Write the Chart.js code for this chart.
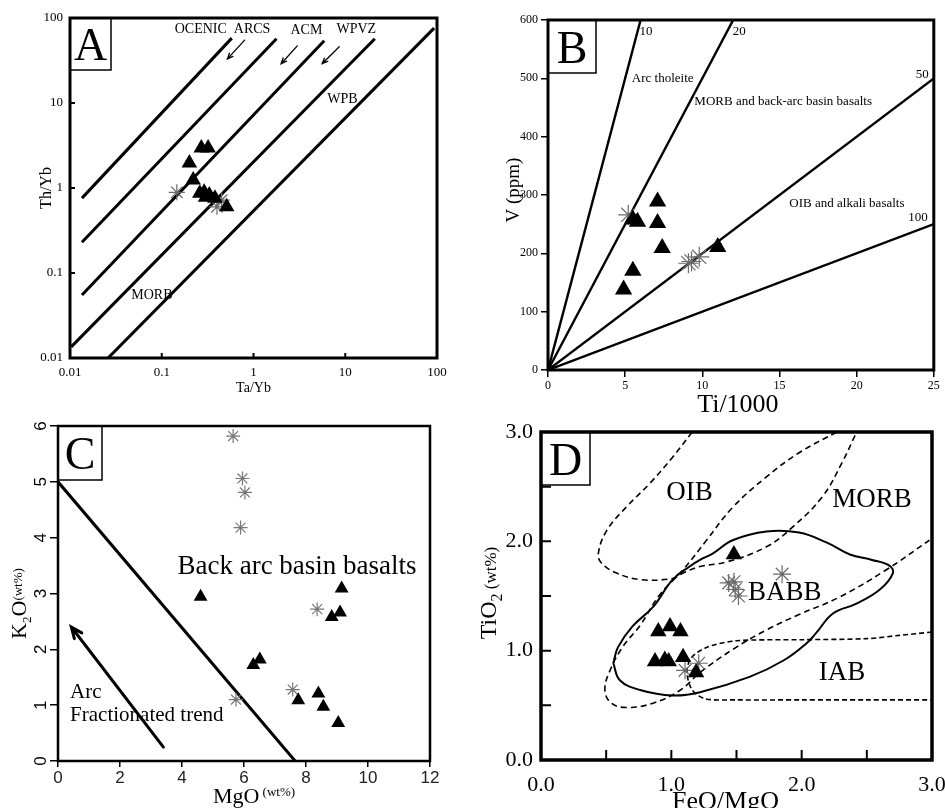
<!DOCTYPE html>
<html>
<head>
<meta charset="utf-8">
<title>Discrimination diagrams A-D</title>
<script src="https://cdn.jsdelivr.net/npm/chart.js@4.4.1/dist/chart.umd.min.js"></script>
<style>
  body { margin: 0; background: #fff; }
  #fig { position: relative; width: 945px; height: 808px; overflow: hidden; }
  #fig canvas { position: absolute; }
</style>
</head>
<body>
<div id="fig">
  <canvas id="chartA" width="470" height="400" style="left:0px;top:0px"></canvas>
  <canvas id="chartC" width="470" height="408" style="left:0px;top:400px"></canvas>
  <canvas id="chartD" width="475" height="408" style="left:470px;top:400px"></canvas>
  <canvas id="chartB" width="475" height="420" style="left:470px;top:0px"></canvas>
</div>
<script>
const SERIF = '"Liberation Serif", "Times New Roman", serif';
const SANS = '"Liberation Sans", Arial, sans-serif';

Chart.defaults.font.family = SERIF;
Chart.defaults.color = '#000';
Chart.defaults.animation = false;
Chart.defaults.plugins.legend.display = false;
Chart.defaults.plugins.tooltip.enabled = false;

// ---- A: Th/Yb vs Ta/Yb (log-log)
const aDecades = [0.01, 0.1, 1, 10, 100];
const aTriTa = [0.27, 0.32, 0.20, 0.22, 0.26, 0.29, 0.33, 0.38, 0.51, 0.30];
const aTriTh = [2.96, 2.96, 1.97, 1.24, 0.87, 0.89, 0.83, 0.76, 0.60, 0.78];
const aStarTa = [0.146, 0.40, 0.45];
const aStarTh = [0.89, 0.60, 0.72];
const aRefTa0 = [0.0135, 0.0135, 0.0135, 0.0103, 0.026];
const aRefTh0 = [0.76, 0.23, 0.055, 0.0135, 0.01];
const aRefTa1 = [0.58, 1.78, 5.9, 21, 93];
const aRefTh1 = [58, 57, 54, 57, 76];
const aNoteText = ['OCENIC  ARCS', 'ACM', 'WPVZ', 'WPB', 'MORB'];
const aNoteTa = [0.46, 3.77, 13.2, 9.3, 0.078];
const aNoteTh = [74, 72, 74, 11.1, 0.055];
const aArrowTa0 = [0.80, 3.0, 8.6];
const aArrowTh0 = [55, 47, 46];
const aArrowTa1 = [0.52, 2.0, 5.6];
const aArrowTh1 = [33, 29, 29];

// ---- B: V vs Ti/1000
const bTriTi = [7.1, 7.1, 7.4, 11.0, 5.5, 4.9, 5.8, 5.5];
const bTriV = [289, 252, 209, 211, 170, 138, 254, 258];
const bStarTi = [5.2, 9.3, 9.8, 9.1];
const bStarV = [266, 186, 194, 183];
const bRatioEndTi = [6, 12, 25, 25];   // Ti/V = 10, 20, 50, 100
const bRatioEndV = [600, 600, 500, 250];
const bNoteText = ['10', '20', '50', '100', 'Arc tholeite', 'MORB and back-arc basin basalts', 'OIB and alkali basalts'];
const bNoteTi = [6.35, 12.4, 24.25, 23.97, 7.43, 15.24, 19.37];
const bNoteV = [581, 581, 506, 261, 499, 461, 286];

// ---- C: K2O vs MgO
const cTriMgO = [4.6, 9.15, 9.1, 8.83, 6.51, 6.3, 8.4, 7.75, 8.56, 9.04];
const cTriK2O = [2.94, 3.09, 2.66, 2.58, 1.82, 1.72, 1.21, 1.09, 0.97, 0.68];
const cStarMgO = [5.65, 5.95, 6.03, 5.89, 8.36, 7.57, 5.74];
const cStarK2O = [5.82, 5.06, 4.81, 4.18, 2.72, 1.28, 1.10];
const cDividerMgO = [0, 7.65];
const cDividerK2O = [5, 0];
const cArrowMgO = [3.4, 0.43];
const cArrowK2O = [0.25, 2.4];

// ---- D: TiO2 vs FeO/MgO
const dTriRatio = [1.48, 0.90, 0.99, 1.07, 0.875, 0.95, 0.98, 1.09, 1.19];
const dTriTiO2 = [1.88, 1.175, 1.22, 1.175, 0.90, 0.915, 0.90, 0.94, 0.80];
const dStarRatio = [1.44, 1.48, 1.49, 1.515, 1.85, 1.105, 1.21];
const dStarTiO2 = [1.62, 1.63, 1.56, 1.50, 1.70, 0.82, 0.885];
const dBabbRatio = [0.555, 0.59, 0.70, 0.86, 1.01, 1.14, 1.22, 1.32, 1.47, 1.73, 1.98, 2.19, 2.37, 2.54, 2.67, 2.70, 2.60, 2.42, 2.24, 2.11, 2.04, 1.86, 1.60, 1.22, 1.01, 0.76, 0.605, 0.555];
const dBabbTiO2 = [0.885, 1.03, 1.22, 1.40, 1.65, 1.77, 1.83, 1.89, 2.01, 2.09, 2.08, 1.99, 1.88, 1.83, 1.78, 1.71, 1.56, 1.43, 1.34, 1.16, 1.07, 0.91, 0.76, 0.62, 0.59, 0.64, 0.73, 0.885];
const dOibRatio = [1.16, 1.01, 0.835, 0.66, 0.505, 0.44, 0.465, 0.58, 0.76, 1.01, 1.09, 1.22, 1.42, 1.73, 1.93, 2.16, 2.31, 2.41];
const dOibTiO2 = [3.0, 2.77, 2.53, 2.32, 2.10, 1.89, 1.80, 1.71, 1.65, 1.66, 1.71, 1.77, 1.81, 1.95, 2.13, 2.41, 2.72, 2.97];
const dMorbRatio = [2.27, 1.98, 1.73, 1.47, 1.27, 1.09, 0.91, 0.76, 0.63, 0.53, 0.49, 0.54, 0.66, 0.86, 1.07, 1.22, 1.47, 1.73, 1.98, 2.29, 2.65, 2.98];
const dMorbTiO2 = [3.0, 2.81, 2.59, 2.31, 2.01, 1.74, 1.51, 1.23, 1.04, 0.82, 0.64, 0.52, 0.48, 0.52, 0.64, 0.80, 1.01, 1.19, 1.33, 1.49, 1.74, 2.01];
const dIabRatio = [3.0, 2.75, 2.5, 2.0, 1.5, 1.27, 1.15, 1.12, 1.16, 1.26, 1.5, 2.0, 2.5, 3.0];
const dIabTiO2 = [1.17, 1.14, 1.11, 1.10, 1.09, 1.03, 0.93, 0.80, 0.64, 0.56, 0.55, 0.55, 0.55, 0.55];
const dNoteText = ['OIB', 'MORB', 'BABB', 'IAB'];
const dNoteRatio = [1.14, 2.54, 1.87, 2.31];
const dNoteTiO2 = [2.44, 2.38, 1.53, 0.80];

const pts = (xs, ys) => xs.map((x, i) => ({ x, y: ys[i] }));

function markSet(xs, ys, style, r, color) {
  return {
    data: pts(xs, ys),
    showLine: false,
    pointStyle: style,
    pointRadius: r,
    pointBackgroundColor: color,
    pointBorderColor: color,
    pointBorderWidth: style === 'star' ? 1.2 : 0,
  };
}

function lineSet(xs, ys, width, dash, tension) {
  return {
    data: pts(xs, ys),
    showLine: true,
    pointRadius: 0,
    borderColor: '#000',
    borderWidth: width,
    borderDash: dash || [],
    tension: tension || 0,
    fill: false,
  };
}

// fix the axis box so the plot frame lands where it should
const fixSize = n => scale => {
  if (scale.isHorizontal()) scale.height = n;
  else scale.width = n;
  scale.paddingLeft = scale.paddingRight = scale.paddingTop = scale.paddingBottom = 0;
};

function richText(ctx, parts, x, y, rot) {
  ctx.save();
  ctx.translate(x, y);
  ctx.rotate(rot || 0);
  ctx.textAlign = 'left';
  ctx.textBaseline = 'alphabetic';
  let w = 0;
  parts.forEach(p => {
    ctx.font = p.size + 'px ' + SERIF;
    p.w = ctx.measureText(p.t).width;
    w += p.w;
  });
  let cx = -w / 2;
  parts.forEach(p => {
    ctx.font = p.size + 'px ' + SERIF;
    ctx.fillText(p.t, cx, p.dy || 0);
    cx += p.w;
  });
  ctx.restore();
}

function decor(spec) {
  return {
    id: 'decor' + spec.letter,
    afterDatasetsDraw(chart) {
      const { ctx, chartArea: a } = chart;
      const sx = chart.scales.x, sy = chart.scales.y;
      const X = v => sx.getPixelForValue(v);
      const Y = v => sy.getPixelForValue(v);
      ctx.save();
      ctx.fillStyle = '#000';
      ctx.strokeStyle = '#000';
      ctx.textBaseline = 'middle';

      (spec.notes || []).forEach(n => {
        ctx.font = n.size + 'px ' + SERIF;
        ctx.textAlign = n.align || 'center';
        ctx.fillText(n.t, X(n.x), Y(n.y));
      });

      (spec.arrows || []).forEach(ar => {
        const x0 = X(ar.x0), y0 = Y(ar.y0), x1 = X(ar.x1), y1 = Y(ar.y1);
        const ang = Math.atan2(y1 - y0, x1 - x0);
        ctx.lineWidth = ar.lw;
        ctx.lineCap = 'round';
        ctx.beginPath();
        ctx.moveTo(x0, y0);
        ctx.lineTo(x1, y1);
        ctx.moveTo(x1 - ar.head * Math.cos(ang - 0.4), y1 - ar.head * Math.sin(ang - 0.4));
        ctx.lineTo(x1, y1);
        ctx.lineTo(x1 - ar.head * Math.cos(ang + 0.4), y1 - ar.head * Math.sin(ang + 0.4));
        ctx.stroke();
      });

      // inward tick marks
      ctx.lineWidth = spec.tickW || 2;
      ctx.lineCap = 'butt';
      ctx.beginPath();
      (spec.inX || []).forEach(v => {
        const p = X(v);
        ctx.moveTo(p, a.bottom);
        ctx.lineTo(p, a.bottom - spec.inLen);
      });
      (spec.inY || []).forEach(v => {
        const p = Y(v);
        ctx.moveTo(a.left, p);
        ctx.lineTo(a.left + spec.inLen, p);
      });
      ctx.stroke();

      // rotated y tick labels (panel C)
      if (spec.rotY) {
        ctx.font = spec.rotY.size + 'px ' + SANS;
        ctx.textAlign = 'center';
        sy.ticks.forEach(t => {
          ctx.save();
          ctx.translate(a.left - spec.rotY.off, Y(t.value));
          ctx.rotate(-Math.PI / 2);
          ctx.fillText(String(t.value), 0, 0);
          ctx.restore();
        });
      }

      // letter box
      const [bw, bh] = spec.box;
      ctx.fillStyle = '#fff';
      ctx.fillRect(a.left, a.top, bw, bh);
      ctx.fillStyle = '#000';
      ctx.lineWidth = 1.5;
      ctx.strokeRect(a.left, a.top, bw, bh);
      ctx.font = '46px ' + SERIF;
      ctx.textAlign = 'center';
      ctx.textBaseline = 'alphabetic';
      ctx.fillText(spec.letter, a.left + bw / 2, a.top + bh / 2 + 16);

      // frame
      ctx.lineWidth = spec.frame;
      ctx.strokeRect(a.left, a.top, a.width, a.height);

      // axis titles
      (spec.titles || []).forEach(tt => {
        if (tt.axis === 'x') {
          richText(ctx, tt.parts, (a.left + a.right) / 2 + (tt.dx || 0), a.bottom + tt.dy, 0);
        } else {
          richText(ctx, tt.parts, a.left - tt.dx, (a.top + a.bottom) / 2 + (tt.dy || 0), -Math.PI / 2);
        }
      });
      ctx.restore();
    }
  };
}

const plainAxis = (extra) => Object.assign({
  grid: { display: false, drawTicks: false },
  border: { display: false },
}, extra);

const tickAxis = (len, extra) => Object.assign({
  grid: { drawOnChartArea: false, drawTicks: true, tickLength: len, lineWidth: 1.5, color: '#000' },
  border: { display: false },
}, extra);

// ---------- A
new Chart('chartA', {
  type: 'scatter',
  data: {
    datasets: [
      markSet(aTriTa, aTriTh, 'triangle', 9, '#000'),
      markSet(aStarTa, aStarTh, 'star', 8, '#6a6a6a'),
      ...aRefTa0.map((_, i) => lineSet([aRefTa0[i], aRefTa1[i]], [aRefTh0[i], aRefTh1[i]], 3)),
    ],
  },
  options: {
    responsive: false,
    layout: { padding: { left: 0, top: 18, right: 33, bottom: 0 } },
    scales: {
      x: plainAxis({
        type: 'logarithmic', min: 0.01, max: 100,
        afterBuildTicks: s => { s.ticks = aDecades.map(v => ({ value: v })); },
        afterFit: fixSize(42),
        ticks: { font: { size: 13 }, padding: 7, maxRotation: 0, autoSkip: false, callback: v => String(v) },
      }),
      y: plainAxis({
        type: 'logarithmic', min: 0.01, max: 100,
        afterBuildTicks: s => { s.ticks = aDecades.map(v => ({ value: v })); },
        afterFit: fixSize(70),
        ticks: { font: { size: 13 }, padding: 7, autoSkip: false, callback: v => String(v) },
      }),
    },
  },
  plugins: [decor({
    letter: 'A', box: [41, 52], frame: 3, inLen: 5, tickW: 2,
    inX: [0.1, 1, 10], inY: [0.1, 1, 10],
    notes: aNoteText.map((t, i) => ({ t, x: aNoteTa[i], y: aNoteTh[i], size: 14 })),
    arrows: aArrowTa0.map((_, i) => ({ x0: aArrowTa0[i], y0: aArrowTh0[i], x1: aArrowTa1[i], y1: aArrowTh1[i], lw: 1.3, head: 6 })),
    titles: [
      { axis: 'x', parts: [{ t: 'Ta/Yb', size: 14 }], dy: 34 },
      { axis: 'y', parts: [{ t: 'Th/Yb', size: 16 }], dx: 19 },
    ],
  })],
});

// ---------- B
new Chart('chartB', {
  type: 'scatter',
  data: {
    datasets: [
      markSet(bTriTi, bTriV, 'triangle', 10, '#000'),
      markSet(bStarTi, bStarV, 'star', 10, '#6a6a6a'),
      ...bRatioEndTi.map((_, i) => lineSet([0, bRatioEndTi[i]], [0, bRatioEndV[i]], 2.4)),
    ],
  },
  options: {
    responsive: false,
    layout: { padding: { left: 0, top: 20, right: 3, bottom: 0 } },
    scales: {
      x: tickAxis(7, {
        min: 0, max: 25, afterFit: fixSize(50),
        ticks: { stepSize: 5, font: { size: 12 }, padding: 2, maxRotation: 0 },
      }),
      y: tickAxis(7, {
        min: 0, max: 600, afterFit: fixSize(78),
        ticks: { stepSize: 100, font: { size: 12 }, padding: 3 },
      }),
    },
  },
  plugins: [decor({
    letter: 'B', box: [48, 53], frame: 3,
    notes: bNoteText.map((t, i) => ({ t, x: bNoteTi[i], y: bNoteV[i], size: 13 })),
    titles: [
      { axis: 'x', parts: [{ t: 'Ti/1000', size: 26 }], dy: 42, dx: -3 },
      { axis: 'y', parts: [{ t: 'V (ppm)', size: 19 }], dx: 29, dy: -5 },
    ],
  })],
});

// ---------- C
new Chart('chartC', {
  type: 'scatter',
  data: {
    datasets: [
      markSet(cTriMgO, cTriK2O, 'triangle', 8, '#000'),
      markSet(cStarMgO, cStarK2O, 'star', 7, '#777'),
      lineSet(cDividerMgO, cDividerK2O, 3),
    ],
  },
  options: {
    responsive: false,
    layout: { padding: { left: 0, top: 26, right: 40, bottom: 0 } },
    scales: {
      x: tickAxis(6, {
        min: 0, max: 12, afterFit: fixSize(47),
        ticks: { stepSize: 2, font: { size: 17, family: SANS }, padding: 1, maxRotation: 0, color: '#222' },
      }),
      y: tickAxis(8, {
        min: 0, max: 6, afterFit: fixSize(58),
        ticks: { stepSize: 1, display: false },
      }),
    },
  },
  plugins: [decor({
    letter: 'C', box: [44, 54], frame: 2.5,
    rotY: { size: 17, off: 17 },
    notes: [
      { t: 'Back arc basin basalts', x: 7.71, y: 3.48, size: 27 },
      { t: 'Arc', x: 0.39, y: 1.22, size: 21, align: 'left' },
      { t: 'Fractionated trend', x: 0.39, y: 0.82, size: 21, align: 'left' },
    ],
    arrows: [{ x0: cArrowMgO[0], y0: cArrowK2O[0], x1: cArrowMgO[1], y1: cArrowK2O[1], lw: 3, head: 12 }],
    titles: [
      { axis: 'x', parts: [{ t: 'MgO', size: 22 }, { t: ' (wt%)', size: 13, dy: -7 }], dy: 42, dx: 10 },
      { axis: 'y', parts: [{ t: 'K', size: 22 }, { t: '2', size: 13, dy: 5 }, { t: 'O', size: 22 }, { t: '(wt%)', size: 13, dy: -4 }], dx: 32, dy: 10 },
    ],
  })],
});

// ---------- D
const halfTicks = [0.5, 1, 1.5, 2, 2.5];
new Chart('chartD', {
  type: 'scatter',
  data: {
    datasets: [
      markSet(dTriRatio, dTriTiO2, 'triangle', 9.5, '#000'),
      markSet(dStarRatio, dStarTiO2, 'star', 9, '#6a6a6a'),
      lineSet(dBabbRatio, dBabbTiO2, 2, [], 0.4),
      lineSet(dOibRatio, dOibTiO2, 1.6, [6, 4], 0.4),
      lineSet(dMorbRatio, dMorbTiO2, 1.6, [6, 4], 0.4),
      lineSet(dIabRatio, dIabTiO2, 1.6, [5, 3], 0.3),
    ],
  },
  options: {
    responsive: false,
    layout: { padding: { left: 0, top: 32, right: 13, bottom: 0 } },
    scales: {
      x: plainAxis({
        min: 0, max: 3, afterFit: fixSize(48),
        ticks: { stepSize: 0.5, font: { size: 22 }, padding: 12, maxRotation: 0, autoSkip: false,
          callback: v => Number.isInteger(v) ? v.toFixed(1) : '' },
      }),
      y: plainAxis({
        min: 0, max: 3, afterFit: fixSize(71),
        ticks: { stepSize: 0.5, font: { size: 22 }, padding: 8, autoSkip: false,
          callback: v => Number.isInteger(v) ? v.toFixed(1) : '' },
      }),
    },
  },
  plugins: [decor({
    letter: 'D', box: [49, 53], frame: 3.5, inLen: 10, tickW: 2,
    inX: halfTicks, inY: halfTicks,
    notes: dNoteText.map((t, i) => ({ t, x: dNoteRatio[i], y: dNoteTiO2[i], size: 27 })),
    titles: [
      { axis: 'x', parts: [{ t: 'FeO/MgO', size: 26 }], dy: 49, dx: -11 },
      { axis: 'y', parts: [{ t: 'TiO', size: 24 }, { t: '2', size: 16, dy: 6 }, { t: ' (wt%)', size: 17 }], dx: 45, dy: -3 },
    ],
  })],
});
</script>
</body>
</html>
